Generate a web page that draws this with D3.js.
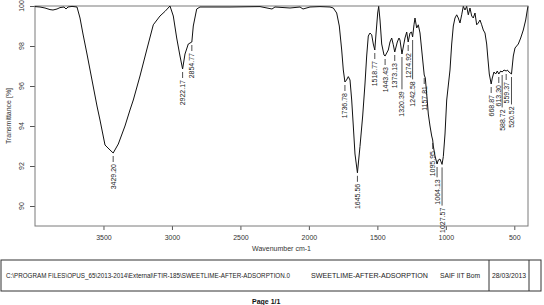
<!DOCTYPE html>
<html><head><meta charset="utf-8">
<script src="https://cdn.jsdelivr.net/npm/d3@7"></script>
<style>
html,body{margin:0;padding:0;background:#fff;}
text{font-family:"Liberation Sans",Arial,sans-serif;}
</style></head>
<body>
<svg id="chart" width="544" height="305"></svg>
<script>
// ---- data ----
const wavenumbers = [4000,3963.5,3927.0,3890.5,3868.6,3839.3,3817.4,3788.2,3773.6,3759.0,3729.8,3693.3,3671.4,3649.5,3620.3,3583.8,3547.3,3525.4,3488.8,3459.6,3429.2,3391.7,3343.0,3306.5,3282.2,3233.3,3184.4,3136.2,3087.3,3050.8,3014.3,2990.1,2965.3,2941.2,2922.17,2904.7,2880.6,2854.77,2844.1,2819.3,2795.2,2576.1,2357.0,2269.4,2247.5,2137.9,2064.9,2043.0,1991.9,1918.9,1845.8,1821.7,1796.9,1777.9,1760.4,1748.7,1736.78,1725.3,1712.2,1699.8,1687.4,1675.7,1663.3,1645.56,1639.3,1626.9,1607.2,1590.4,1578.0,1566.2,1553.8,1541.4,1529.7,1518.77,1509.9,1497.5,1490.2,1480.7,1468.3,1451.5,1443.43,1420.2,1407.7,1395.3,1383.6,1373.13,1354.4,1342.0,1334.7,1320.39,1298.2,1285.8,1274.92,1261.7,1250.7,1242.58,1232.5,1225.2,1212.8,1201.1,1188.6,1176.2,1164.5,1157.81,1149.9,1139.7,1128.0,1115.6,1103.2,1095.95,1091.5,1079.1,1064.13,1055.0,1042.6,1027.57,1018.4,1006.0,993.6,969.6,957.2,945.5,933.1,920.7,909.0,896.6,884.2,872.5,860.1,847.7,836.0,823.6,811.2,799.5,787.1,774.7,763.0,750.6,738.2,726.5,714.1,701.7,694.4,682.7,668.87,660.8,648.4,636.0,624.3,613.30,599.4,588.72,575.3,559.37,551.3,538.8,520.52,507.3,494.9,470.8,453.3,434.3,416.8,405.1,400];
const transmittance = [99.97,99.95,99.9,99.82,99.8,99.85,99.92,99.95,99.85,99.95,99.98,99.95,99.4,98.6,97.6,96.3,95.0,94.3,93.05,92.85,92.65,93.1,94.0,94.8,95.3,96.5,97.8,99.06,99.5,99.73,100.0,99.5,98.4,97.5,96.85,97.6,98.1,98.2,99.0,99.85,99.95,99.95,99.97,99.85,99.95,99.9,99.95,99.85,99.95,99.97,99.95,99.9,99.65,99.0,97.8,96.8,96.2,96.3,96.47,96.3,95.3,94.0,92.6,91.66,92.1,92.97,94.5,96.1,97.5,98.5,98.65,98.56,98.1,97.8,98.6,99.65,99.98,99.3,98.1,97.55,97.5,97.8,98.2,98.4,98.06,97.7,98.2,98.4,98.3,97.6,98.4,98.7,98.2,98.65,98.7,98.45,99.06,99.4,98.9,99.06,98.65,97.8,97.0,96.55,96.4,95.6,94.6,94.0,93.5,93.3,93.0,92.5,92.1,92.3,92.35,92.08,92.47,93.6,95.3,96.8,98.1,99.0,99.4,99.56,99.4,99.15,99.56,99.98,99.8,99.98,99.56,99.9,99.5,99.4,99.65,99.06,99.15,99.3,99.06,98.8,98.65,98.1,97.5,96.6,96.1,96.4,96.7,96.6,96.75,96.6,96.75,96.7,96.8,96.75,96.8,96.7,96.6,97.5,97.9,98.1,98.4,98.8,99.3,99.8,99.98];
const peakWavenumbers = [3429.20,2922.17,2854.77,1736.78,1645.56,1518.77,1443.43,1373.13,1320.39,1274.92,1242.58,1157.81,1095.95,1064.13,1027.57,668.87,613.30,588.72,559.37,520.52];
const xTicks = [3500,3000,2500,2000,1500,1000,500];
const yTicks = [90,92,94,96,98,100];
const xTitle = "Wavenumber cm-1";
const yTitle = "Transmittance [%]";
const footerTexts = ["C:\\PROGRAM FILES\\OPUS_65\\2013-2014\\External\\FTIR-185\\SWEETLIME-AFTER-ADSORPTION.0","SWEETLIME-AFTER-ADSORPTION","SAIF IIT Bom","28/03/2013"];
const pageText = "Page 1/1";

// ---- layout ----
const svg = d3.select("#chart");
const L = 35, R = 528, T = 6, B = 226;
const x = d3.scaleLinear().domain([4000, 400]).range([L, R]);
const y = d3.scaleLinear().domain([89, 100]).range([B, T]);
const fs = 7;
const axisCol = "#7a7a7a";

// y ticks
const gy = svg.append("g").attr("transform", `translate(${L},0)`)
  .call(d3.axisLeft(y).tickValues(yTicks).tickSize(5).tickFormat(d3.format("d")));
gy.select(".domain").remove();
gy.selectAll(".tick line").attr("stroke", "#555");
gy.selectAll(".tick text").remove();
svg.append("g").selectAll("text").data(yTicks).join("text")
  .attr("transform", d => `translate(23.5,${y(d)}) rotate(-90)`)
  .attr("text-anchor", "middle").attr("font-size", fs).attr("fill", "#333")
  .text(d => d);

// x ticks
const gx = svg.append("g").attr("transform", `translate(0,${B})`)
  .call(d3.axisBottom(x).tickValues(xTicks).tickSize(4).tickFormat(d3.format("d")));
gx.select(".domain").remove();
gx.selectAll(".tick line").attr("stroke", "#555");
gx.selectAll(".tick text").attr("font-size", fs).attr("fill", "#333")
  .attr("font-family", "Liberation Sans, Arial, sans-serif").attr("dy", null).attr("y", 13.5);

// box
svg.append("rect").attr("x", L).attr("y", T).attr("width", R - L).attr("height", B - T)
  .attr("fill", "none").attr("stroke", axisCol).attr("stroke-width", 1);

// titles
svg.append("text").attr("x", (L + R) / 2).attr("y", 251).attr("text-anchor", "middle")
  .attr("font-size", fs).attr("fill", "#333").text(xTitle);
svg.append("text").attr("transform", `translate(10.5,${(T + B) / 2}) rotate(-90)`)
  .attr("text-anchor", "middle").attr("font-size", fs).attr("fill", "#333").text(yTitle);

// spectrum
const pts = wavenumbers.map((w, i) => [w, transmittance[i]]);
svg.append("path").datum(pts)
  .attr("d", d3.line().x(d => x(d[0])).y(d => y(d[1])))
  .attr("fill", "none").attr("stroke", "#111").attr("stroke-width", 1);

// peak labels with greedy stacking
const valueAt = w => {
  const i = wavenumbers.findIndex(v => Math.abs(v - w) < 0.01);
  return transmittance[i];
};
const placed = [];
const gp = svg.append("g");
peakWavenumbers.slice().sort((a, b) => b - a).forEach(w => {
  const px = x(w), yc = y(valueAt(w));
  const t = gp.append("text").attr("font-size", fs).attr("fill", "#222")
    .attr("text-anchor", "end").text(w.toFixed(2));
  const len = t.node().getComputedTextLength();
  let top = yc + 11;
  let moved = true;
  while (moved) {
    moved = false;
    for (const p of placed) {
      if (Math.abs(p.x - px) < 7.3 && top < p.bottom + 2 && top + len > p.top - 2) {
        top = p.bottom + 3; moved = true;
      }
    }
  }
  placed.push({x: px, top: top, bottom: top + len});
  t.attr("transform", `translate(${px + 2.5},${top}) rotate(-90)`);
  gp.append("line").attr("x1", px).attr("x2", px).attr("y1", yc + 3).attr("y2", top - 2)
    .attr("stroke", "#222").attr("stroke-width", 0.8);
});

// footer
svg.append("rect").attr("x", 1).attr("y", 260).attr("width", 540).attr("height", 31)
  .attr("fill", "none").attr("stroke", "#333").attr("stroke-width", 1);
[489, 529].forEach(xx => svg.append("line").attr("x1", xx).attr("x2", xx)
  .attr("y1", 260).attr("y2", 291).attr("stroke", "#333").attr("stroke-width", 1));
const fx = [6, 311, 440, 492], fw = [284, 117, 40, 34];
footerTexts.forEach((s, i) => svg.append("text").attr("x", fx[i]).attr("y", 278.3)
  .attr("font-size", i === 0 ? 6.6 : fs).attr("fill", "#222")
  .attr("textLength", fw[i]).attr("lengthAdjust", "spacingAndGlyphs").text(s));
svg.append("text").attr("x", 252).attr("y", 304).attr("font-size", fs)
  .attr("font-weight", "bold").attr("fill", "#111").text(pageText);
</script>
</body></html>
